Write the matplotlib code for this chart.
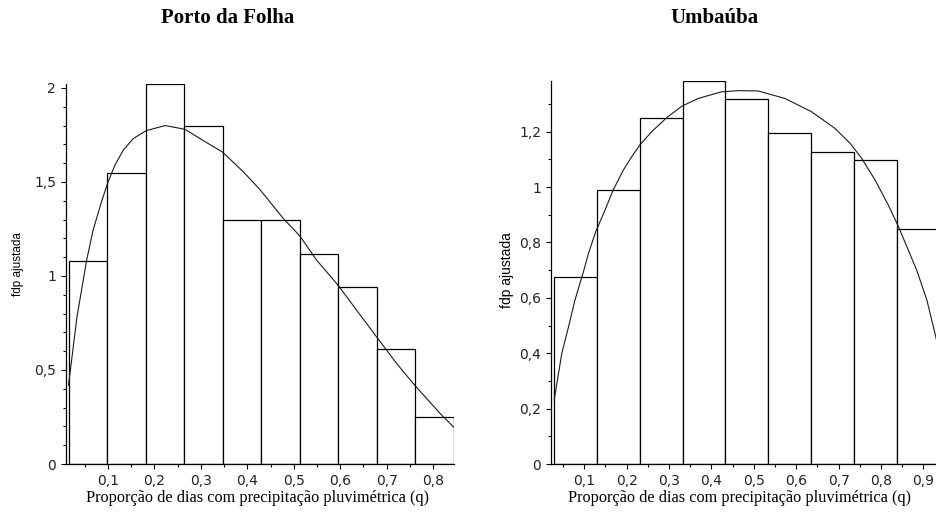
import matplotlib
matplotlib.use("Agg")
import matplotlib.pyplot as plt
from matplotlib.ticker import FixedLocator, FixedFormatter, NullFormatter

# Porto da Folha: histogram classes, densities and fitted density curve
pf_edges = [0.015, 0.098, 0.181, 0.264, 0.347, 0.430, 0.513, 0.596, 0.679, 0.762, 0.845]
pf_density = [1.08, 1.55, 2.02, 1.80, 1.30, 1.30, 1.115, 0.94, 0.61, 0.25]
pf_curve_q = [0.015, 0.033, 0.054, 0.068, 0.086, 0.100, 0.115, 0.133, 0.154, 0.182,
              0.223, 0.266, 0.305, 0.346, 0.391, 0.427, 0.477, 0.513, 0.549, 0.595,
              0.635, 0.678, 0.721, 0.760, 0.818, 0.845]
pf_curve_f = [0.42, 0.78, 1.085, 1.245, 1.395, 1.50, 1.59, 1.67, 1.73, 1.773,
              1.80, 1.78, 1.72, 1.66, 1.555, 1.46, 1.307, 1.213, 1.085, 0.952,
              0.819, 0.677, 0.536, 0.42, 0.261, 0.195]

# Umbaúba: histogram classes, densities and fitted density curve
um_edges = [0.029, 0.130, 0.231, 0.332, 0.433, 0.534, 0.635, 0.736, 0.837, 0.938]
um_density = [0.674, 0.989, 1.249, 1.384, 1.317, 1.194, 1.125, 1.097, 0.848]
um_curve_q = [0.029, 0.047, 0.062, 0.078, 0.098, 0.110, 0.127, 0.149, 0.168, 0.192,
              0.212, 0.231, 0.259, 0.294, 0.330, 0.369, 0.424, 0.465, 0.510, 0.573,
              0.636, 0.691, 0.727, 0.754, 0.786, 0.817, 0.841, 0.864, 0.884, 0.908,
              0.927, 0.938]
um_curve_f = [0.231, 0.40, 0.49, 0.592, 0.694, 0.761, 0.839, 0.917, 0.989, 1.061,
              1.11, 1.152, 1.20, 1.25, 1.292, 1.32, 1.344, 1.348, 1.347, 1.32,
              1.272, 1.212, 1.158, 1.104, 1.025, 0.935, 0.857, 0.773, 0.70, 0.592,
              0.472, 0.40]

# Tick positions and labels
pf_xticks = [0.1, 0.2, 0.3, 0.4, 0.5, 0.6, 0.7, 0.8]
pf_xlabels = ["0,1", "0,2", "0,3", "0,4", "0,5", "0,6", "0,7", "0,8"]
pf_xminor = [0.05, 0.15, 0.25, 0.35, 0.45, 0.55, 0.65, 0.75]
pf_yticks = [0, 0.5, 1, 1.5, 2]
pf_ylabels = ["0", "0,5", "1", "1,5", "2"]
pf_yminor = [0.1, 0.2, 0.3, 0.4, 0.6, 0.7, 0.8, 0.9, 1.1, 1.2, 1.3, 1.4, 1.6, 1.7, 1.8, 1.9]

um_xticks = [0.1, 0.2, 0.3, 0.4, 0.5, 0.6, 0.7, 0.8, 0.9]
um_xlabels = ["0,1", "0,2", "0,3", "0,4", "0,5", "0,6", "0,7", "0,8", "0,9"]
um_xminor = [0.05, 0.15, 0.25, 0.35, 0.45, 0.55, 0.65, 0.75, 0.85]
um_yticks = [0, 0.2, 0.4, 0.6, 0.8, 1.0, 1.2]
um_ylabels = ["0", "0,2", "0,4", "0,6", "0,8", "1", "1,2"]
um_yminor = [0.1, 0.3, 0.5, 0.7, 0.9, 1.1, 1.3]

titles = ["Porto da Folha", "Umbaúba"]
xlabel = "Proporção de dias com precipitação pluvimétrica (q)"
ylabel = "fdp ajustada"

W, H = 937, 512
fig = plt.figure(figsize=(W / 100, H / 100), dpi=100)
fig.patch.set_facecolor("white")

SERIF = ["Liberation Serif", "DejaVu Serif"]
SANS = ["DejaVu Sans"]
NARROW = ["Liberation Sans", "DejaVu Sans"]


def px_axes(left, right, top, bottom):
    return fig.add_axes([left / W, 1 - bottom / H, (right - left) / W, (bottom - top) / H])


def draw_panel(ax, edges, dens, cq, cf, xlim, ylim, xt, xl, xm, yt, yl, ym):
    widths = [b - a for a, b in zip(edges[:-1], edges[1:])]
    ax.bar(edges[:-1], dens, width=widths, align="edge", facecolor="white",
           edgecolor="black", linewidth=0.9, zorder=2)
    ax.plot(cq, cf, color="#1a1a1a", linewidth=0.8, zorder=3, clip_on=True)
    ax.set_xlim(*xlim)
    ax.set_ylim(*ylim)
    for side in ("top", "right"):
        ax.spines[side].set_visible(False)
    for side in ("left", "bottom"):
        ax.spines[side].set_linewidth(0.9)
    ax.xaxis.set_major_locator(FixedLocator(xt))
    ax.xaxis.set_major_formatter(FixedFormatter(xl))
    ax.xaxis.set_minor_locator(FixedLocator(xm))
    ax.xaxis.set_minor_formatter(NullFormatter())
    ax.yaxis.set_major_locator(FixedLocator(yt))
    ax.yaxis.set_major_formatter(FixedFormatter(yl))
    ax.yaxis.set_minor_locator(FixedLocator(ym))
    ax.yaxis.set_minor_formatter(NullFormatter())
    ax.tick_params(which="major", direction="out", length=3.6, width=0.8,
                   labelsize=10, colors="black", pad=3.5)
    ax.tick_params(which="minor", direction="out", length=2.4, width=0.8, colors="black")
    for lab in ax.get_xticklabels() + ax.get_yticklabels():
        lab.set_family(SANS)
        lab.set_color("#222222")


ax1 = px_axes(66, 454, 84.2, 464)
draw_panel(ax1, pf_edges, pf_density, pf_curve_q, pf_curve_f,
           (0.0095, 0.845), (0, 2.02),
           pf_xticks, pf_xlabels, pf_xminor, pf_yticks, pf_ylabels, pf_yminor)

ax2 = px_axes(551, 939.6, 80.7, 464)
draw_panel(ax2, um_edges, um_density, um_curve_q, um_curve_f,
           (0.0215, 0.938), (0, 1.384),
           um_xticks, um_xlabels, um_xminor, um_yticks, um_ylabels, um_yminor)

# Titles
fig.text(228 / W, 1 - 18 / H, titles[0], ha="center", va="center",
         family=SERIF, fontweight="bold", fontsize=15)
fig.text(714 / W, 1 - 18 / H, titles[1], ha="center", va="center",
         family=SERIF, fontweight="bold", fontsize=15)

# Axis titles
fig.text(258 / W, 1 - 498 / H, xlabel, ha="center", va="center",
         family=SERIF, fontsize=11.7)
fig.text(740 / W, 1 - 498 / H, xlabel, ha="center", va="center",
         family=SERIF, fontsize=11.7)
fig.text(18 / W, 1 - 264 / H, ylabel, ha="center", va="center", rotation=90,
         family=NARROW, fontsize=8.5)
fig.text(507 / W, 1 - 270 / H, ylabel, ha="center", va="center", rotation=90,
         family=NARROW, fontsize=10)

fig.savefig("out.png", dpi=100, facecolor="white")
